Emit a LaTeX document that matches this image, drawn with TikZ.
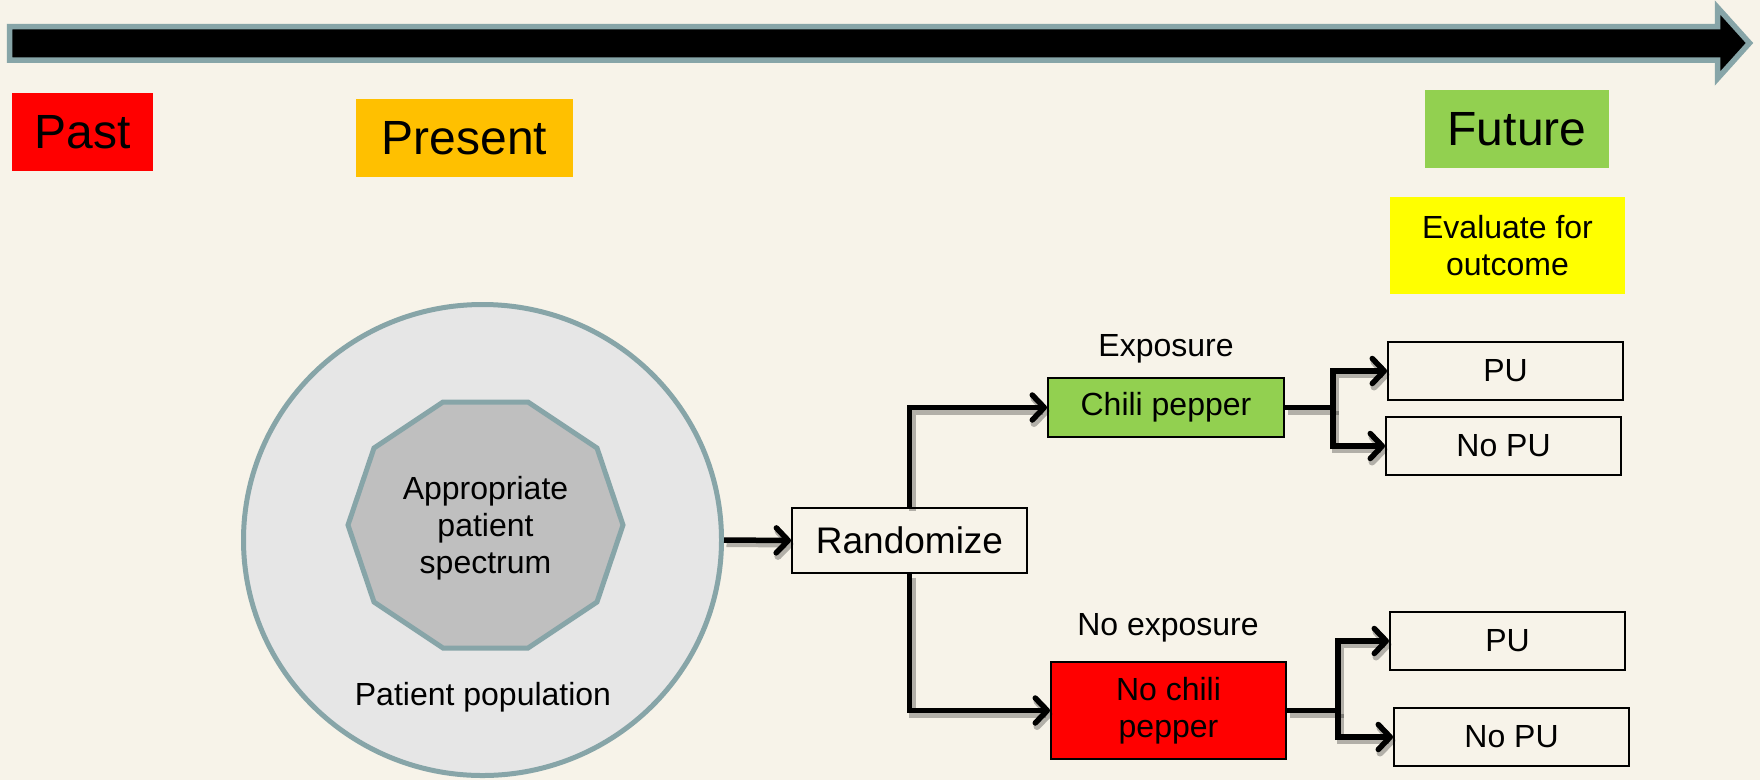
\documentclass[tikz,border=0pt]{standalone}
\usepackage{fontspec}
\setmainfont{Liberation Sans}
\usetikzlibrary{arrows.meta,shapes.geometric}
\definecolor{bgcream}{HTML}{F7F3E9}
\definecolor{slate}{HTML}{87A5A8}
\definecolor{popfill}{HTML}{E6E6E6}
\definecolor{specfill}{HTML}{BFBFBF}
\definecolor{pastred}{HTML}{FF0000}
\definecolor{presorange}{HTML}{FFC000}
\definecolor{futgreen}{HTML}{92D050}
\definecolor{evalyellow}{HTML}{FFFF00}

\begin{document}
\begin{tikzpicture}[x=1pt,y=-1pt,
  eralabel/.style={rectangle, inner sep=0pt, font=\fontsize{48}{55}\selectfont},
  body/.style={font=\fontsize{32}{37}\selectfont},
  outbox/.style={rectangle, draw=black, line width=2pt, inner sep=0pt,
    minimum width=235pt, minimum height=58pt, body},
  lineshadow/.style={preaction={draw, black, opacity=.28, line width=7pt,
    transform canvas={shift={(2.5pt,-3.5pt)}}}},
  trunk/.style={line width=5.5pt, black, line join=miter, lineshadow},
  conn/.style={trunk, -{Straight Barb[length=12pt,width=25pt,round]}}
]
% page background
\fill[bgcream] (0,0) rectangle (1760,780);
\useasboundingbox (0,0) rectangle (1760,780);

% time line
\draw[fill=black, draw=slate, line width=5.5pt, line join=miter]
  (9.5,26.5) -- (1717.5,26.5) -- (1717.5,7.5) -- (1749.5,43)
  -- (1717.5,78.5) -- (1717.5,60) -- (9.5,60) -- cycle;

% eras
\node[eralabel, fill=pastred, minimum width=141pt, minimum height=78pt] (past) at (82.5,132) {Past};
\node[eralabel, fill=presorange, minimum width=217pt, minimum height=78pt] (present) at (464.5,138) {Present};
\node[eralabel, fill=futgreen, minimum width=184pt, minimum height=78pt] (future) at (1517,129) {Future};
\node[body, fill=evalyellow, align=center, inner sep=0pt, minimum width=235pt, minimum height=97pt] (eval) at (1507.5,245.5) {Evaluate for\\outcome};

% patient population and spectrum
\node[ellipse, draw=slate, fill=popfill, line width=5pt, inner sep=0pt,
  minimum width=478pt, minimum height=471pt] (pop) at (482.5,540) {};
\draw[draw=slate, fill=specfill, line width=5pt, line join=miter]
  (443,402) -- (528,402) -- (597,448) -- (623,525) -- (597,602) -- (528,648)
  -- (443,648) -- (374,602) -- (348,525) -- (374,448) -- cycle;
\node[body, align=center, inner sep=0pt] (spec) at (485.5,528) {Appropriate\\patient\\spectrum};
\node[body, anchor=base] (poplabel) at (483,705) {Patient population};

% randomisation and arms
\node[rectangle, draw=black, line width=2pt, inner sep=0pt, minimum width=235pt, minimum height=65pt,
  font=\fontsize{37}{42}\selectfont] (rand) at (909.5,540.5) {Randomize};
\node[body, anchor=base] (exp) at (1166,356) {Exposure};
\node[outbox, fill=futgreen, minimum width=236pt, minimum height=59pt] (chili) at (1166,407.5) {Chili pepper};
\node[body, anchor=base] (noexp) at (1168,635) {No exposure};
\node[outbox, fill=pastred, align=center, minimum height=97pt] (nochili) at (1168.5,710.5) {No chili\\pepper};

% outcomes
\node[outbox] (pu1) at (1505.5,371) {PU};
\node[outbox] (nopu1) at (1503.5,446) {No PU};
\node[outbox] (pu2) at (1507.5,641) {PU};
\node[outbox] (nopu2) at (1511.5,737) {No PU};

% connectors
\draw[conn] (pop.east) -- (rand.west);
\draw[conn] (rand.north) |- (chili.west);
\draw[conn] (rand.south) |- (nochili.west);

\coordinate (j1) at (1333,407.5);
\draw[conn] (chili.east) -- (j1) |- (pu1.west);
\draw[conn] (j1) |- (nopu1.west);

\coordinate (j2) at (1338,710.5);
\draw[conn] (nochili.east) -- (j2) |- (pu2.west);
\draw[conn] (j2) |- (nopu2.west);
\end{tikzpicture}
\end{document}
